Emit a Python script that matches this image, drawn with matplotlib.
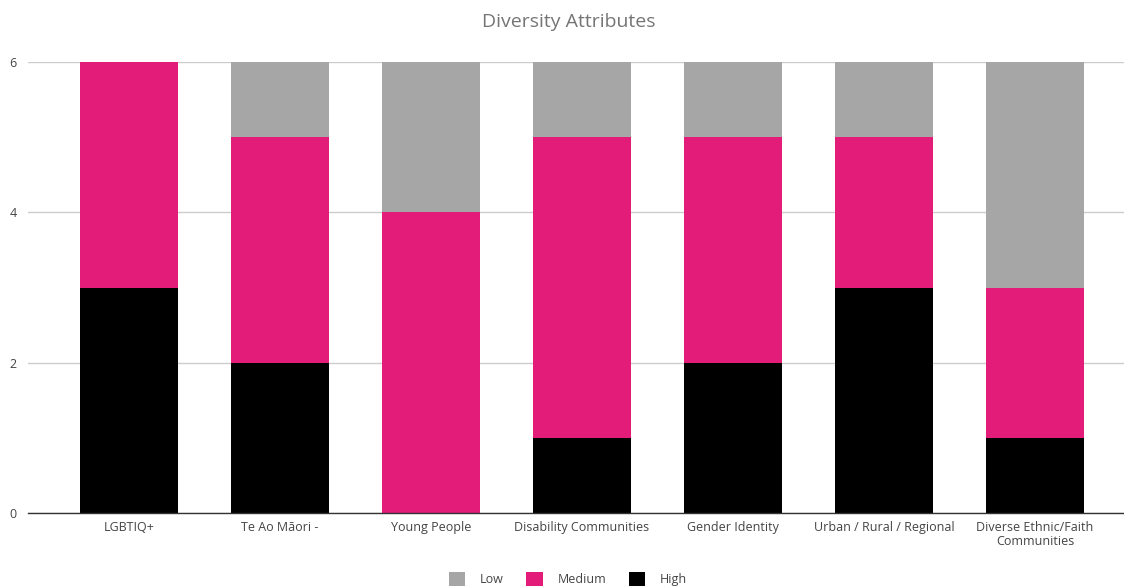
import matplotlib
matplotlib.use("Agg")
import matplotlib.pyplot as plt
from matplotlib.patches import Patch

categories = ["LGBTIQ+", "Te Ao Māori -", "Young People", "Disability Communities",
              "Gender Identity", "Urban / Rural / Regional", "Diverse Ethnic/Faith\nCommunities"]
high = [3, 2, 0, 1, 2, 3, 1]
medium = [3, 3, 4, 4, 3, 2, 2]
low = [0, 1, 2, 1, 1, 1, 3]
series_names = ["Low", "Medium", "High"]
colors = {"Low": "#A6A6A6", "Medium": "#E31C79", "High": "#000000"}

plt.rcParams['font.family'] = ['Open Sans', 'DejaVu Sans']
W, H = 1124, 586
fig = plt.figure(figsize=(W / 100, H / 100), dpi=100)
ax = fig.add_axes([28 / W, 1 - 513 / H, (1124 - 28) / W, (513 - 62) / H])

x = list(range(len(categories)))
bw = 0.65
ax.bar(x, high, bw, color=colors["High"], zorder=3)
ax.bar(x, medium, bw, bottom=high, color=colors["Medium"], zorder=3)
bot2 = [h + m for h, m in zip(high, medium)]
ax.bar(x, low, bw, bottom=bot2, color=colors["Low"], zorder=3)

ax.set_ylim(0, 6)
ax.set_xlim(-0.669, 6.589)
ax.set_yticks([0, 2, 4, 6])
ax.yaxis.grid(True, color="#CCCCCC", linewidth=1, zorder=0)
for s in ["top", "right", "left"]:
    ax.spines[s].set_visible(False)
ax.spines["bottom"].set_color("#333333")
ax.spines["bottom"].set_linewidth(1)
ax.spines["bottom"].set_zorder(4)
ax.tick_params(axis="y", length=0, labelsize=9, labelcolor="#444444", pad=8)
ax.tick_params(axis="x", length=0, labelsize=9, labelcolor="#444444", pad=6)
ax.set_xticks(x)
ax.set_xticklabels(categories, linespacing=1.1)

fig.text(569 / W, 1 - 22 / H, "Diversity Attributes", ha="center", va="center",
         fontsize=14, color="#757575")

handles = [Patch(facecolor=colors[n], edgecolor="none") for n in series_names]
fig.legend(handles, series_names, loc="center", bbox_to_anchor=(568 / W, 1 - 579 / H),
           ncol=3, frameon=False, fontsize=9, labelcolor="#444444",
           handlelength=1.3, handleheight=1.3, columnspacing=1.8, handletextpad=1.2)

fig.savefig("out.png", dpi=100)
